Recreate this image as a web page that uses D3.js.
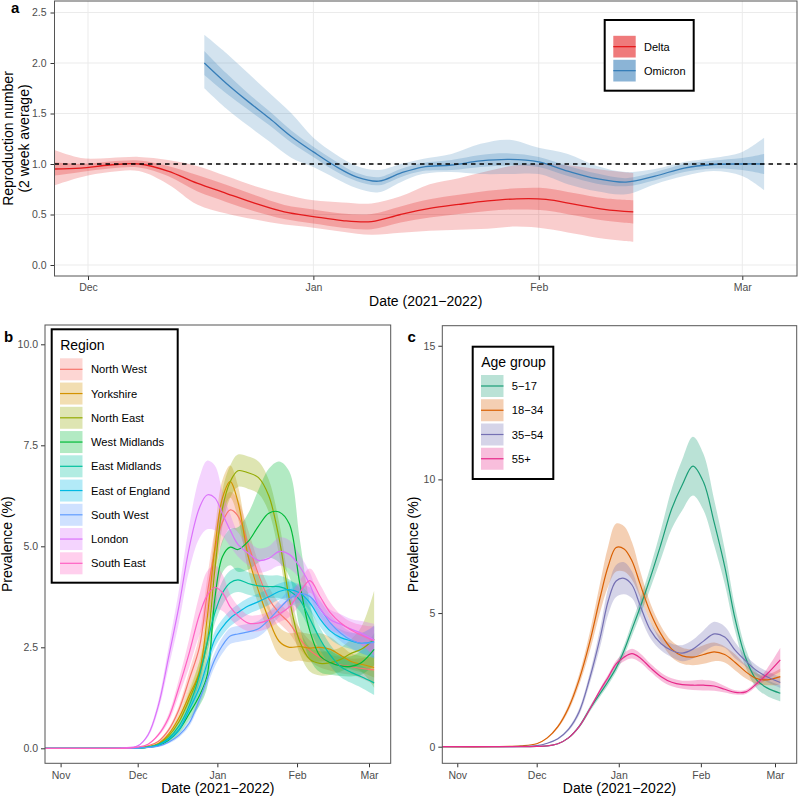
<!DOCTYPE html>
<html><head><meta charset="utf-8">
<script src="https://cdn.jsdelivr.net/npm/d3@7"></script>
<style>body{margin:0;background:#fff}svg{display:block;font-family:"Liberation Sans",Arial,Helvetica,sans-serif}</style>
</head><body><svg id="chart" width="798" height="798"></svg>
<script>
const parse = d3.timeParse("%Y-%m-%d");

// ---------- Panel a data ----------
const deltaDates = ["2021-11-26","2021-11-30","2021-12-04","2021-12-08","2021-12-12","2021-12-16","2021-12-20","2021-12-24","2021-12-28","2022-01-01","2022-01-05","2022-01-09","2022-01-13","2022-01-17","2022-01-21","2022-01-25","2022-01-29","2022-02-02","2022-02-06","2022-02-10","2022-02-14"];
const deltaR    = [0.95,0.96,0.99,1.00,0.93,0.81,0.71,0.61,0.525,0.48,0.44,0.43,0.50,0.56,0.60,0.635,0.655,0.65,0.60,0.55,0.525];
const deltaHi95 = [1.15,1.06,1.06,1.07,1.04,0.98,0.88,0.78,0.70,0.64,0.62,0.61,0.68,0.80,0.86,0.93,0.99,1.00,0.98,0.94,0.91];
const deltaLo95 = [0.78,0.87,0.92,0.93,0.80,0.60,0.51,0.45,0.40,0.37,0.33,0.30,0.32,0.34,0.35,0.36,0.38,0.36,0.31,0.26,0.23];
const deltaHw50 = [0.07,0.04,0.035,0.035,0.05,0.08,0.085,0.08,0.07,0.07,0.07,0.075,0.08,0.09,0.095,0.10,0.105,0.11,0.11,0.11,0.115];

const omiDates = ["2021-12-17","2021-12-20","2021-12-23","2021-12-26","2021-12-29","2022-01-01","2022-01-04","2022-01-07","2022-01-10","2022-01-13","2022-01-16","2022-01-20","2022-01-24","2022-01-28","2022-02-01","2022-02-05","2022-02-09","2022-02-13","2022-02-17","2022-02-21","2022-02-25","2022-03-01","2022-03-04"];
const omiR    = [2.00,1.80,1.62,1.45,1.27,1.12,0.98,0.87,0.83,0.91,0.97,0.99,1.03,1.045,1.02,0.93,0.855,0.82,0.88,0.96,0.995,1.00,1.00];
const omiHi95 = [2.28,2.10,1.90,1.70,1.50,1.26,1.10,0.98,0.94,1.00,1.05,1.10,1.20,1.24,1.16,1.10,0.98,0.92,0.95,1.02,1.06,1.12,1.26];
const omiLo95 = [1.75,1.55,1.38,1.22,1.06,0.97,0.86,0.76,0.72,0.82,0.90,0.92,0.90,0.90,0.90,0.80,0.73,0.70,0.80,0.88,0.93,0.88,0.74];
const omiHw50 = [0.12,0.10,0.08,0.07,0.06,0.05,0.05,0.04,0.04,0.04,0.04,0.05,0.06,0.06,0.05,0.05,0.05,0.04,0.04,0.04,0.04,0.06,0.10];

const rTicks = [0, 0.5, 1, 1.5, 2, 2.5];
const monthTicksA = ["2021-12-01","2022-01-01","2022-02-01","2022-03-01"];
const monthTicksBC = ["2021-11-01","2021-12-01","2022-01-01","2022-02-01","2022-03-01"];

// ---------- Panels b & c data (shared date grid) ----------
const pDates = ["2021-10-26","2021-11-15","2021-11-25","2021-12-01","2021-12-05","2021-12-09","2021-12-13","2021-12-17","2021-12-21","2021-12-25","2021-12-28","2021-12-31","2022-01-03","2022-01-06","2022-01-09","2022-01-13","2022-01-17","2022-01-21","2022-01-25","2022-01-29","2022-02-02","2022-02-06","2022-02-10","2022-02-14","2022-02-18","2022-02-22","2022-02-26","2022-03-03"];

const regions = ["North West","Yorkshire","North East","West Midlands","East Midlands","East of England","South West","London","South East"];
const nwVal  = [0,0,0,0.02,0.06,0.17,0.45,0.95,1.7,2.5,3.8,4.9,5.6,5.9,5.75,5.05,4.3,3.7,3.35,3.1,2.72,2.42,2.25,2.12,2.06,2.02,1.98,1.94];
const nwHw   = [0,0,0,0,0,0.02,0.05,0.1,0.2,0.3,0.4,0.5,0.5,0.45,0.4,0.35,0.3,0.3,0.25,0.25,0.25,0.25,0.25,0.2,0.2,0.2,0.25,0.35];
const yoVal  = [0,0,0,0.01,0.04,0.12,0.35,0.75,1.3,1.9,3.2,4.95,6.2,6.6,6.1,4.75,3.9,3.2,2.65,2.5,2.52,2.48,2.5,2.45,2.3,2.15,2.08,2.0];
const yoHw   = [0,0,0,0,0,0.02,0.05,0.1,0.2,0.3,0.4,0.45,0.45,0.4,0.4,0.35,0.35,0.35,0.35,0.35,0.35,0.35,0.35,0.3,0.25,0.2,0.2,0.25];
const neVal  = [0,0,0,0.01,0.03,0.1,0.3,0.65,1.2,1.85,2.6,4.4,5.95,6.6,6.87,6.82,6.7,6.25,5.2,3.7,2.65,2.2,2.1,2.12,2.2,2.35,2.45,2.7];
const neHw   = [0,0,0,0,0,0.02,0.05,0.1,0.2,0.3,0.4,0.45,0.45,0.4,0.4,0.4,0.4,0.4,0.4,0.35,0.3,0.3,0.3,0.3,0.3,0.35,0.55,1.2];
const wmVal  = [0,0,0,0.01,0.02,0.07,0.2,0.45,0.85,1.3,1.8,3.7,4.75,4.98,4.92,5.12,5.5,5.82,5.85,5.55,4.1,2.9,2.28,2.12,2.04,2.03,2.12,2.45];
const wmHw   = [0,0,0,0,0,0.02,0.05,0.1,0.15,0.25,0.3,0.35,0.4,0.45,0.55,0.7,0.9,1.1,1.25,1.3,1.1,0.7,0.4,0.3,0.25,0.25,0.3,0.4];
const emVal  = [0,0,0,0.01,0.03,0.09,0.25,0.55,1.05,1.8,2.6,3.35,3.85,4.1,4.17,4.08,4.02,4.0,4.0,3.9,3.68,3.2,2.7,2.3,2.02,1.88,1.77,1.62];
const emHw   = [0,0,0,0,0.01,0.02,0.04,0.08,0.12,0.18,0.22,0.26,0.3,0.3,0.3,0.28,0.28,0.28,0.28,0.28,0.28,0.28,0.28,0.26,0.26,0.26,0.27,0.3];
const eeVal  = [0,0,0,0.01,0.03,0.08,0.22,0.45,0.95,1.5,2.1,2.7,3.0,3.22,3.36,3.52,3.63,3.75,3.88,3.93,3.85,3.6,3.2,2.9,2.74,2.66,2.6,2.64];
const eeHw   = [0,0,0,0,0.01,0.02,0.04,0.06,0.1,0.14,0.18,0.2,0.2,0.2,0.2,0.2,0.2,0.2,0.2,0.2,0.2,0.2,0.2,0.2,0.2,0.2,0.25,0.4];
const swVal  = [0,0,0,0.005,0.02,0.05,0.15,0.32,0.62,1.2,1.7,2.2,2.55,2.78,2.83,2.88,2.96,3.18,3.45,3.7,3.83,3.76,3.45,3.1,2.85,2.68,2.6,2.62];
const swHw   = [0,0,0,0,0.01,0.02,0.03,0.05,0.08,0.12,0.16,0.18,0.2,0.2,0.2,0.2,0.2,0.2,0.2,0.22,0.22,0.22,0.2,0.2,0.2,0.2,0.25,0.4];
const loVal  = [0,0,0.01,0.06,0.33,1.05,2.25,3.5,4.95,5.95,6.27,6.2,5.8,5.4,5.05,4.83,4.65,4.7,4.87,4.8,4.5,4.05,3.45,3.18,3.07,2.95,2.85,2.68];
const loHw   = [0,0,0,0.01,0.05,0.12,0.25,0.4,0.55,0.75,0.85,0.8,0.55,0.4,0.3,0.3,0.3,0.3,0.35,0.35,0.3,0.3,0.25,0.25,0.25,0.25,0.3,0.4];
const seVal  = [0,0,0,0.03,0.1,0.33,0.75,1.5,2.35,3.3,3.78,3.98,3.85,3.5,3.28,3.1,3.1,3.18,3.32,3.5,3.85,4.15,3.75,3.35,3.1,2.93,2.8,2.66];
const seHw   = [0,0,0,0,0.01,0.04,0.1,0.2,0.35,0.5,0.6,0.55,0.45,0.3,0.25,0.2,0.2,0.2,0.2,0.25,0.3,0.3,0.3,0.25,0.2,0.2,0.25,0.35];
const regionVals = [nwVal, yoVal, neVal, wmVal, emVal, eeVal, swVal, loVal, seVal];
const regionHws  = [nwHw, yoHw, neHw, wmHw, emHw, eeHw, swHw, loHw, seHw];
const regionColors = ["#F8766D","#D39200","#93AA00","#00BA38","#00C19F","#00B9E3","#619CFF","#DB72FB","#FF61C3"];

const ageGroups = ["5\u221217","18\u221234","35\u221254","55+"];
const age517Val  = [0,0,0,0.01,0.03,0.11,0.33,0.75,1.4,2.0,2.45,2.95,3.6,4.4,5.2,6.35,7.6,8.9,9.8,10.5,9.9,8.4,6.75,4.75,3.3,2.5,2.2,2.0];
const age517Hw   = [0,0,0,0,0,0.01,0.03,0.06,0.1,0.12,0.14,0.16,0.2,0.25,0.3,0.4,0.55,0.75,0.95,1.1,1.05,0.85,0.65,0.45,0.35,0.3,0.3,0.3];
const age1834Val = [0,0,0.03,0.11,0.33,0.75,1.45,2.5,3.9,5.6,6.75,7.45,7.4,6.95,6.1,5.0,4.2,3.65,3.4,3.35,3.45,3.55,3.45,3.15,2.8,2.55,2.5,2.62];
const age1834Hw  = [0,0,0,0.01,0.03,0.06,0.12,0.2,0.35,0.55,0.75,0.9,0.85,0.7,0.5,0.35,0.3,0.3,0.3,0.3,0.35,0.35,0.3,0.3,0.25,0.2,0.2,0.3];
const age3554Val = [0,0,0.01,0.04,0.13,0.3,0.65,1.3,2.55,4.1,5.45,6.2,6.3,6.05,5.3,4.35,3.85,3.6,3.5,3.65,3.95,4.22,4.1,3.6,3.2,2.85,2.62,2.4];
const age3554Hw  = [0,0,0,0,0.01,0.03,0.06,0.12,0.2,0.35,0.5,0.6,0.6,0.5,0.4,0.3,0.25,0.25,0.3,0.35,0.4,0.45,0.4,0.3,0.2,0.2,0.2,0.2];
const age55Val   = [0,0,0,0.01,0.03,0.11,0.33,0.75,1.4,2.12,2.6,3.1,3.35,3.48,3.33,2.95,2.62,2.41,2.32,2.3,2.3,2.27,2.15,2.03,2.05,2.35,2.72,3.25];
const age55Hw    = [0,0,0,0,0,0.01,0.02,0.04,0.06,0.08,0.1,0.12,0.15,0.18,0.17,0.15,0.15,0.15,0.15,0.18,0.2,0.18,0.12,0.08,0.08,0.1,0.2,0.45];
const ageVals = [age517Val, age1834Val, age3554Val, age55Val];
const ageHws  = [age517Hw, age1834Hw, age3554Hw, age55Hw];
const ageColors = ["#1B9E77","#D95F02","#7570B3","#E7298A"];

const prevTicksB = [0, 2.5, 5, 7.5, 10];
const prevTicksC = [0, 5, 10, 15];

// ---------- drawing ----------
const svg = d3.select("#chart");
const defs = svg.append("defs");
const TICK_COL = "#4D4D4D";
const CURVE = d3.curveCatmullRom.alpha(0.5);

function clip(id, L, T, R, B) {
  defs.append("clipPath").attr("id", id).append("rect")
    .attr("x", L).attr("y", T).attr("width", R - L).attr("height", B - T);
  return "url(#" + id + ")";
}

function axes(box, x, y, xTicks, yTicks, yFmt, pad) {
  const [L, T, R, B] = box;
  const gx = svg.append("g").attr("transform", `translate(0,${B})`)
    .call(d3.axisBottom(x).tickValues(xTicks.map(parse)).tickFormat(d3.timeFormat("%b")).tickSize(4).tickPadding(4));
  const gy = svg.append("g").attr("transform", `translate(${L},0)`)
    .call(d3.axisLeft(y).tickValues(yTicks).tickFormat(yFmt).tickSize(4).tickPadding(pad));
  [gx, gy].forEach(g => {
    g.select(".domain").remove();
    g.selectAll(".tick line").attr("stroke", "#333").attr("stroke-width", 1);
    g.selectAll(".tick text").attr("fill", TICK_COL).style("font-size", "10.5px")
      .style("font-family", '"Liberation Sans", Arial, sans-serif');
  });
  svg.append("rect").attr("x", L).attr("y", T).attr("width", R - L).attr("height", B - T)
    .attr("fill", "none").attr("stroke", "#555").attr("stroke-width", 1);
}

function text(x, y, s, opts = {}) {
  const t = svg.append("text").attr("x", x).attr("y", y).text(s)
    .attr("font-size", opts.size || 14).attr("fill", opts.fill || "#000")
    .attr("text-anchor", opts.anchor || "start");
  if (opts.bold) t.attr("font-weight", "bold");
  if (opts.rotate) t.attr("transform", `rotate(-90,${x},${y})`);
  return t;
}

// ===== Panel a =====
{
  const box = [54.5, 1, 797, 276];
  const x = d3.scaleTime().domain([parse("2021-12-01"), parse("2022-03-01")]).range([88, 742.3]);
  const y = d3.scaleLinear().domain([0, 2.5]).range([265, 12.5]);
  const [L, T, R, B] = box;
  const grid = svg.append("g");
  grid.selectAll(".h").data(rTicks).join("line").attr("x1", L).attr("x2", R)
    .attr("y1", d => y(d)).attr("y2", d => y(d)).attr("stroke", "#EBEBEB").attr("stroke-width", 1);
  grid.selectAll(".v").data(monthTicksA.map(parse)).join("line").attr("y1", T).attr("y2", B)
    .attr("x1", d => x(d)).attr("x2", d => x(d)).attr("stroke", "#EBEBEB").attr("stroke-width", 1);

  const cp = clip("clipA", L, T, R, B);
  const g = svg.append("g").attr("clip-path", cp);
  const series = [
    {dates: deltaDates, r: deltaR, lo: deltaLo95, hi: deltaHi95, hw: deltaHw50, color: "#E41A1C"},
    {dates: omiDates, r: omiR, lo: omiLo95, hi: omiHi95, hw: omiHw50, color: "#377EB8"}
  ];
  series.forEach(s => {
    s.pts = s.dates.map((d, i) => ({date: parse(d), v: s.r[i], lo: s.lo[i], hi: s.hi[i], hw: s.hw[i]}));
  });
  const outer = d3.area().x(d => x(d.date)).y0(d => y(d.lo)).y1(d => y(d.hi)).curve(CURVE);
  const inner = d3.area().x(d => x(d.date)).y0(d => y(d.v - d.hw)).y1(d => y(d.v + d.hw)).curve(CURVE);
  const line = d3.line().x(d => x(d.date)).y(d => y(d.v)).curve(CURVE);
  series.forEach(s => g.append("path").attr("d", outer(s.pts)).attr("fill", s.color).attr("fill-opacity", 0.22));
  series.forEach(s => g.append("path").attr("d", inner(s.pts)).attr("fill", s.color).attr("fill-opacity", 0.25));
  series.forEach(s => g.append("path").attr("d", line(s.pts)).attr("fill", "none").attr("stroke", s.color).attr("stroke-width", 1.3));
  g.append("line").attr("x1", L).attr("x2", R).attr("y1", y(1)).attr("y2", y(1))
    .attr("stroke", "#000").attr("stroke-width", 1.3).attr("stroke-dasharray", "4.5,4");

  axes(box, x, y, monthTicksA, rTicks, d3.format(".1f"), 4);
  text(425.7, 306, "Date (2021\u22122022)", {anchor: "middle"});
  text(12.5, 138.5, "Reproduction number", {anchor: "middle", rotate: true});
  text(28.5, 138.5, "(2 week average)", {anchor: "middle", rotate: true});
  text(11, 13, "a", {bold: true, size: 15});

  svg.append("rect").attr("x", 604.7).attr("y", 20).attr("width", 89).attr("height", 70.7)
    .attr("fill", "#fff").attr("stroke", "#000").attr("stroke-width", 2);
  const names = ["Delta", "Omicron"];
  series.forEach((s, i) => {
    const ky = 35.8 + i * 24;
    svg.append("rect").attr("x", 613.3).attr("y", ky).attr("width", 22.4).attr("height", 21.7)
      .attr("fill", s.color).attr("fill-opacity", 0.58);
    svg.append("line").attr("x1", 613.3).attr("x2", 635.7).attr("y1", ky + 10.85).attr("y2", ky + 10.85)
      .attr("stroke", s.color).attr("stroke-width", 1.3);
    text(644, ky + 14.8, names[i], {size: 11});
  });
}

// ===== Panel b & c shared drawer =====
function prevalencePanel(cfg) {
  const [L, T, R, B] = cfg.box;
  const x = d3.scaleTime().domain([parse("2021-12-01"), parse("2022-03-01")]).range(cfg.xr);
  const y = d3.scaleLinear().domain(cfg.yd).range(cfg.yr);
  const cp = clip(cfg.id, L, T, R, B);
  const g = svg.append("g").attr("clip-path", cp);
  const dates = pDates.map(parse);
  const data = cfg.vals.map((vals, k) => dates.map((d, i) => ({date: d, v: vals[i], hw: cfg.hws[k][i]})));
  const area = d3.area().x(d => x(d.date)).y0(d => y(Math.max(0, d.v - d.hw))).y1(d => y(d.v + d.hw)).curve(CURVE);
  const line = d3.line().x(d => x(d.date)).y(d => y(d.v)).curve(CURVE);
  data.forEach((pts, k) => g.append("path").attr("d", area(pts)).attr("fill", cfg.colors[k]).attr("fill-opacity", 0.3));
  data.forEach((pts, k) => g.append("path").attr("d", line(pts)).attr("fill", "none")
    .attr("stroke", cfg.colors[k]).attr("stroke-width", 1.2));
  axes(cfg.box, x, y, monthTicksBC, cfg.yTicks, cfg.yFmt, 3);
  text((L + R) / 2, 793, "Date (2021\u22122022)", {anchor: "middle"});
  text(cfg.ylabX, (T + B) / 2, "Prevalence (%)", {anchor: "middle", rotate: true});
  text(cfg.labX, 341.7, cfg.label, {bold: true, size: 15});

  const lg = cfg.legend;
  svg.append("rect").attr("x", lg.x).attr("y", lg.y).attr("width", lg.w).attr("height", lg.h)
    .attr("fill", "#fff").attr("stroke", "#000").attr("stroke-width", 2);
  text(lg.x + 8.5, lg.titleY, lg.title, {size: 14});
  cfg.names.forEach((n, k) => {
    const ky = lg.keyY + k * 24.25;
    svg.append("rect").attr("x", lg.keyX).attr("y", ky).attr("width", 22.5).attr("height", 22)
      .attr("fill", cfg.colors[k]).attr("fill-opacity", 0.3);
    svg.append("line").attr("x1", lg.keyX).attr("x2", lg.keyX + 22.5).attr("y1", ky + 11).attr("y2", ky + 11)
      .attr("stroke", cfg.colors[k]).attr("stroke-width", 1.2);
    text(lg.textX, ky + 15, n, {size: 11.2});
  });
}

prevalencePanel({
  id: "clipB", box: [45, 325, 390.7, 763.3], xr: [137.7, 369], yd: [0, 10], yr: [748.3, 344.3],
  vals: regionVals, hws: regionHws, colors: regionColors, names: regions,
  yTicks: prevTicksB, yFmt: d3.format(".1f"), ylabX: 12.5, labX: 4, label: "b",
  legend: {x: 51.7, y: 329.3, w: 126, h: 253.4, title: "Region", titleY: 349.5, keyY: 358.3, keyX: 60, textX: 91}
});

prevalencePanel({
  id: "clipC", box: [442.3, 325.7, 796.7, 763.3], xr: [536.7, 775], yd: [0, 15], yr: [746.7, 345.75],
  vals: ageVals, hws: ageHws, colors: ageColors, names: ageGroups,
  yTicks: prevTicksC, yFmt: d3.format("d"), ylabX: 417.5, labX: 407.5, label: "c",
  legend: {x: 472.7, y: 346.7, w: 80.6, h: 132.3, title: "Age group", titleY: 366.5, keyY: 375, keyX: 481, textX: 511.7}
});
</script></body></html>
